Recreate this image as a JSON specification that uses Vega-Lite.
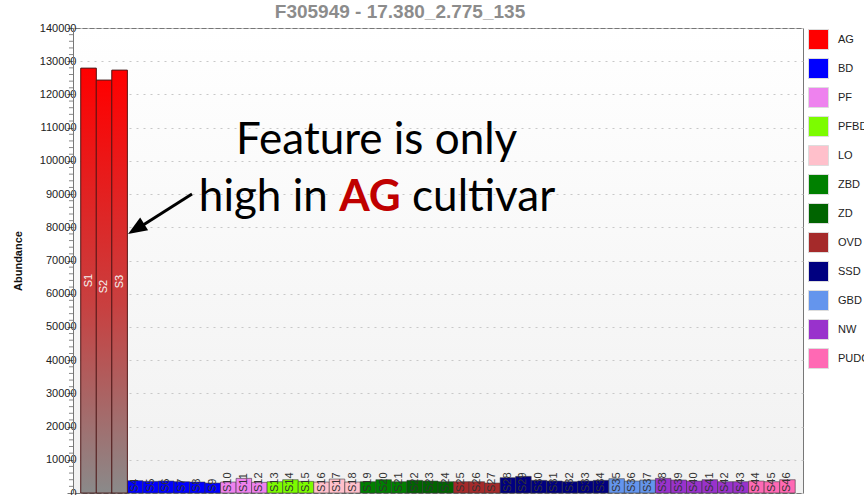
{
  "$schema": "https://vega.github.io/schema/vega-lite/v6.json",
  "width": 730,
  "height": 465,
  "padding": {"left": 73, "top": 28, "right": 61, "bottom": 2},
  "autosize": {"type": "none"},
  "background": "white",
  "title": "F305949 - 17.380_2.775_135",
  "config": {
    "view": {"stroke": "#777777", "strokeWidth": 1, "fill": {"gradient": "linear", "x1": 0, "y1": 0, "x2": 0, "y2": 1, "stops": [{"offset": 0, "color": "#ffffff"}, {"offset": 1, "color": "#f1f1f1"}]}},
    "font": "Liberation Sans",
    "title": {"font": "Liberation Sans", "fontSize": 19, "fontWeight": "bold", "color": "#8c8c8c", "anchor": "middle", "frame": "group", "dx": -38, "dy": 4, "baseline": "alphabetic", "offset": 0}
  },
  "datasets": {
    "samples": [
      {"sample": "S1", "group": "AG", "value": 127900},
      {"sample": "S2", "group": "AG", "value": 124300},
      {"sample": "S3", "group": "AG", "value": 127300},
      {"sample": "S4", "group": "BD", "value": 3700},
      {"sample": "S5", "group": "BD", "value": 3500},
      {"sample": "S6", "group": "BD", "value": 3600},
      {"sample": "S7", "group": "BD", "value": 3400},
      {"sample": "S8", "group": "BD", "value": 3300},
      {"sample": "S9", "group": "BD", "value": 3000},
      {"sample": "S10", "group": "PF", "value": 3300},
      {"sample": "S11", "group": "PF", "value": 4400},
      {"sample": "S12", "group": "PF", "value": 3200},
      {"sample": "S13", "group": "PFBD", "value": 3400},
      {"sample": "S14", "group": "PFBD", "value": 4000},
      {"sample": "S15", "group": "PFBD", "value": 3500},
      {"sample": "S16", "group": "LO", "value": 3300},
      {"sample": "S17", "group": "LO", "value": 4200},
      {"sample": "S18", "group": "LO", "value": 3300},
      {"sample": "S19", "group": "ZBD", "value": 3400},
      {"sample": "S20", "group": "ZBD", "value": 4000},
      {"sample": "S21", "group": "ZBD", "value": 3400},
      {"sample": "S22", "group": "ZD", "value": 3800},
      {"sample": "S23", "group": "ZD", "value": 3600},
      {"sample": "S24", "group": "ZD", "value": 3400},
      {"sample": "S25", "group": "OVD", "value": 3400},
      {"sample": "S26", "group": "OVD", "value": 3400},
      {"sample": "S27", "group": "OVD", "value": 3000},
      {"sample": "S28", "group": "SSD", "value": 4600},
      {"sample": "S29", "group": "SSD", "value": 5000},
      {"sample": "S30", "group": "SSD", "value": 3800},
      {"sample": "S31", "group": "SSD", "value": 3600},
      {"sample": "S32", "group": "SSD", "value": 3400},
      {"sample": "S33", "group": "SSD", "value": 3600},
      {"sample": "S34", "group": "SSD", "value": 3800},
      {"sample": "S35", "group": "GBD", "value": 4300},
      {"sample": "S36", "group": "GBD", "value": 3600},
      {"sample": "S37", "group": "GBD", "value": 3900},
      {"sample": "S38", "group": "NW", "value": 4400},
      {"sample": "S39", "group": "NW", "value": 3900},
      {"sample": "S40", "group": "NW", "value": 3600},
      {"sample": "S41", "group": "NW", "value": 4000},
      {"sample": "S42", "group": "NW", "value": 3400},
      {"sample": "S43", "group": "NW", "value": 3400},
      {"sample": "S44", "group": "PUDC", "value": 3600},
      {"sample": "S45", "group": "PUDC", "value": 3400},
      {"sample": "S46", "group": "PUDC", "value": 4000}
    ],
    "minorTicks": [
      {"tick": 2000}, {"tick": 4000}, {"tick": 6000}, {"tick": 8000},
      {"tick": 12000}, {"tick": 14000}, {"tick": 16000}, {"tick": 18000},
      {"tick": 22000}, {"tick": 24000}, {"tick": 26000}, {"tick": 28000},
      {"tick": 32000}, {"tick": 34000}, {"tick": 36000}, {"tick": 38000},
      {"tick": 42000}, {"tick": 44000}, {"tick": 46000}, {"tick": 48000},
      {"tick": 52000}, {"tick": 54000}, {"tick": 56000}, {"tick": 58000},
      {"tick": 62000}, {"tick": 64000}, {"tick": 66000}, {"tick": 68000},
      {"tick": 72000}, {"tick": 74000}, {"tick": 76000}, {"tick": 78000},
      {"tick": 82000}, {"tick": 84000}, {"tick": 86000}, {"tick": 88000},
      {"tick": 92000}, {"tick": 94000}, {"tick": 96000}, {"tick": 98000},
      {"tick": 102000}, {"tick": 104000}, {"tick": 106000}, {"tick": 108000},
      {"tick": 112000}, {"tick": 114000}, {"tick": 116000}, {"tick": 118000},
      {"tick": 122000}, {"tick": 124000}, {"tick": 126000}, {"tick": 128000},
      {"tick": 132000}, {"tick": 134000}, {"tick": 136000}, {"tick": 138000}
    ],
    "noteCenter": [{"text": "Feature is only", "ax": 0.416, "ay": 102000}],
    "noteRight": [{"text": "high in", "ax": 0.349, "ay": 85000}],
    "noteLeft": [{"text": "cultivar", "ax": 0.4645, "ay": 85000}],
    "emph": [{"text": "AG", "ax": 0.4068, "ay": 85000}],
    "arrow": [{"ax": 0.163, "ay": 90000, "ax2": 0.0918, "ay2": 80100}],
    "head": [{"ax": 0.087, "ay": 79600}]
  },
  "resolve": {"scale": {"x": "independent", "y": "independent"}, "axis": {"y": "independent"}},
  "layer": [
    {
      "data": {"name": "samples"},
      "mark": {"type": "bar", "stroke": "#333333", "strokeOpacity": 0.55, "strokeWidth": 1},
      "encoding": {
        "x": {"field": "sample", "type": "nominal", "sort": null, "scale": {"type": "band", "paddingInner": 0, "paddingOuter": 0.5}, "axis": null},
        "y": {"field": "value", "type": "quantitative", "scale": {"domain": [0, 140000], "nice": false},
          "axis": {"title": "Abundance", "titleFont": "Liberation Sans", "titleFontSize": 11, "titleFontWeight": "bold", "titleColor": "#111111", "titlePadding": 16,
            "values": [0, 10000, 20000, 30000, 40000, 50000, 60000, 70000, 80000, 90000, 100000, 110000, 120000, 130000, 140000],
            "format": "d", "labelFont": "Liberation Sans", "labelFontSize": 11, "labelColor": "#222222", "labelPadding": -9,
            "tickSize": 6, "tickColor": "#777777", "domainColor": "#777777",
            "grid": true, "gridColor": "#c8c8c8", "gridDash": [2, 5], "gridWidth": 1}},
        "color": {"field": "group", "type": "nominal",
          "scale": {"domain": ["AG", "BD", "PF", "PFBD", "LO", "ZBD", "ZD", "OVD", "SSD", "GBD", "NW", "PUDC"],
            "range": ["#ff0000", "#0000ff", "#ee82ee", "#7cfc00", "#ffc0cb", "#008000", "#006400", "#a52a2a", "#000080", "#6495ed", "#9932cc", "#ff69b4"]},
          "legend": {"title": null, "orient": "none", "legendX": 735, "legendY": 1, "symbolType": "square", "symbolSize": 400, "symbolStrokeWidth": 1, "symbolStrokeColor": "#dddddd", "symbolOpacity": 1,
            "labelFont": "Liberation Sans", "labelFontSize": 11, "labelColor": "#222222", "labelOffset": 9, "rowPadding": 4, "padding": 0}}
      }
    },
    {
      "data": {"name": "samples"},
      "transform": [{"filter": "datum.value > 50000"}],
      "mark": {"type": "bar", "stroke": "#4a1515", "strokeWidth": 1, "strokeOpacity": 0.8,
        "fill": {"gradient": "linear", "x1": 0, "y1": 0, "x2": 0, "y2": 1, "stops": [{"offset": 0, "color": "#ff0000"}, {"offset": 0.55, "color": "#c84040"}, {"offset": 1, "color": "#8a8a8a"}]}},
      "encoding": {
        "x": {"field": "sample", "type": "nominal", "sort": null, "scale": {"type": "band", "paddingInner": 0, "paddingOuter": 0.5, "domain": ["S1","S2","S3","S4","S5","S6","S7","S8","S9","S10","S11","S12","S13","S14","S15","S16","S17","S18","S19","S20","S21","S22","S23","S24","S25","S26","S27","S28","S29","S30","S31","S32","S33","S34","S35","S36","S37","S38","S39","S40","S41","S42","S43","S44","S45","S46"]}, "axis": null},
        "y": {"field": "value", "type": "quantitative", "scale": {"domain": [0, 140000], "nice": false}, "axis": null}
      }
    },
    {
      "data": {"name": "samples"},
      "transform": [{"filter": "datum.value > 50000"}],
      "mark": {"type": "text", "angle": 270, "align": "center", "baseline": "middle", "font": "Liberation Sans", "fontSize": 11, "color": "#f4f4f4"},
      "encoding": {
        "x": {"field": "sample", "type": "nominal", "sort": null, "scale": {"type": "band", "paddingInner": 0, "paddingOuter": 0.5, "domain": ["S1","S2","S3","S4","S5","S6","S7","S8","S9","S10","S11","S12","S13","S14","S15","S16","S17","S18","S19","S20","S21","S22","S23","S24","S25","S26","S27","S28","S29","S30","S31","S32","S33","S34","S35","S36","S37","S38","S39","S40","S41","S42","S43","S44","S45","S46"]}, "axis": null},
        "y": {"field": "value", "type": "quantitative", "scale": {"domain": [0, 280000], "nice": false}, "axis": null},
        "text": {"field": "sample"}
      }
    },
    {
      "data": {"name": "samples"},
      "transform": [{"filter": "datum.value <= 50000"}],
      "mark": {"type": "text", "angle": 270, "align": "left", "baseline": "middle", "font": "Liberation Sans", "fontSize": 11, "color": "#333333", "dx": 1},
      "encoding": {
        "x": {"field": "sample", "type": "nominal", "sort": null, "scale": {"type": "band", "paddingInner": 0, "paddingOuter": 0.5, "domain": ["S1","S2","S3","S4","S5","S6","S7","S8","S9","S10","S11","S12","S13","S14","S15","S16","S17","S18","S19","S20","S21","S22","S23","S24","S25","S26","S27","S28","S29","S30","S31","S32","S33","S34","S35","S36","S37","S38","S39","S40","S41","S42","S43","S44","S45","S46"]}, "axis": null},
        "y": {"datum": 0, "type": "quantitative", "scale": {"domain": [0, 140000], "nice": false}, "axis": null},
        "text": {"field": "sample"}
      }
    },
    {
      "data": {"name": "minorTicks"},
      "mark": {"type": "rule", "color": "#888888", "strokeWidth": 1},
      "encoding": {
        "x": {"datum": -0.0055, "type": "quantitative", "scale": {"domain": [0, 1], "nice": false, "zero": false}, "axis": null},
        "x2": {"datum": 0},
        "y": {"field": "tick", "type": "quantitative", "scale": {"domain": [0, 140000], "nice": false}, "axis": null}
      }
    },
    {
      "data": {"name": "noteCenter"},
      "mark": {"type": "text", "font": "Lato", "fontSize": 44, "baseline": "alphabetic", "align": "center", "color": "#000000"},
      "encoding": {
        "x": {"field": "ax", "type": "quantitative", "scale": {"domain": [0, 1], "nice": false, "zero": false}, "axis": null},
        "y": {"field": "ay", "type": "quantitative", "scale": {"domain": [0, 140000], "nice": false}, "axis": null},
        "text": {"field": "text"}
      }
    },
    {
      "data": {"name": "noteRight"},
      "mark": {"type": "text", "font": "Lato", "fontSize": 44, "baseline": "alphabetic", "align": "right", "color": "#000000"},
      "encoding": {
        "x": {"field": "ax", "type": "quantitative", "scale": {"domain": [0, 1], "nice": false, "zero": false}, "axis": null},
        "y": {"field": "ay", "type": "quantitative", "scale": {"domain": [0, 140000], "nice": false}, "axis": null},
        "text": {"field": "text"}
      }
    },
    {
      "data": {"name": "noteLeft"},
      "mark": {"type": "text", "font": "Lato", "fontSize": 44, "baseline": "alphabetic", "align": "left", "color": "#000000"},
      "encoding": {
        "x": {"field": "ax", "type": "quantitative", "scale": {"domain": [0, 1], "nice": false, "zero": false}, "axis": null},
        "y": {"field": "ay", "type": "quantitative", "scale": {"domain": [0, 140000], "nice": false}, "axis": null},
        "text": {"field": "text"}
      }
    },
    {
      "data": {"name": "emph"},
      "mark": {"type": "text", "font": "Lato", "fontSize": 44, "fontWeight": "bold", "baseline": "alphabetic", "align": "center", "color": "#c00000"},
      "encoding": {
        "x": {"field": "ax", "type": "quantitative", "scale": {"domain": [0, 1], "nice": false, "zero": false}, "axis": null},
        "y": {"field": "ay", "type": "quantitative", "scale": {"domain": [0, 140000], "nice": false}, "axis": null},
        "text": {"field": "text"}
      }
    },
    {
      "data": {"name": "arrow"},
      "mark": {"type": "rule", "color": "#000000", "strokeWidth": 3},
      "encoding": {
        "x": {"field": "ax", "type": "quantitative", "scale": {"domain": [0, 1], "nice": false, "zero": false}, "axis": null},
        "x2": {"field": "ax2"},
        "y": {"field": "ay", "type": "quantitative", "scale": {"domain": [0, 140000], "nice": false}, "axis": null},
        "y2": {"field": "ay2"}
      }
    },
    {
      "data": {"name": "head"},
      "mark": {"type": "point", "shape": "M0,-1L0.75,0.9L-0.75,0.9Z", "size": 400, "filled": true, "color": "#000000", "opacity": 1, "angle": 238},
      "encoding": {
        "x": {"field": "ax", "type": "quantitative", "scale": {"domain": [0, 1], "nice": false, "zero": false}, "axis": null},
        "y": {"field": "ay", "type": "quantitative", "scale": {"domain": [0, 140000], "nice": false}, "axis": null}
      }
    }
  ]
}
